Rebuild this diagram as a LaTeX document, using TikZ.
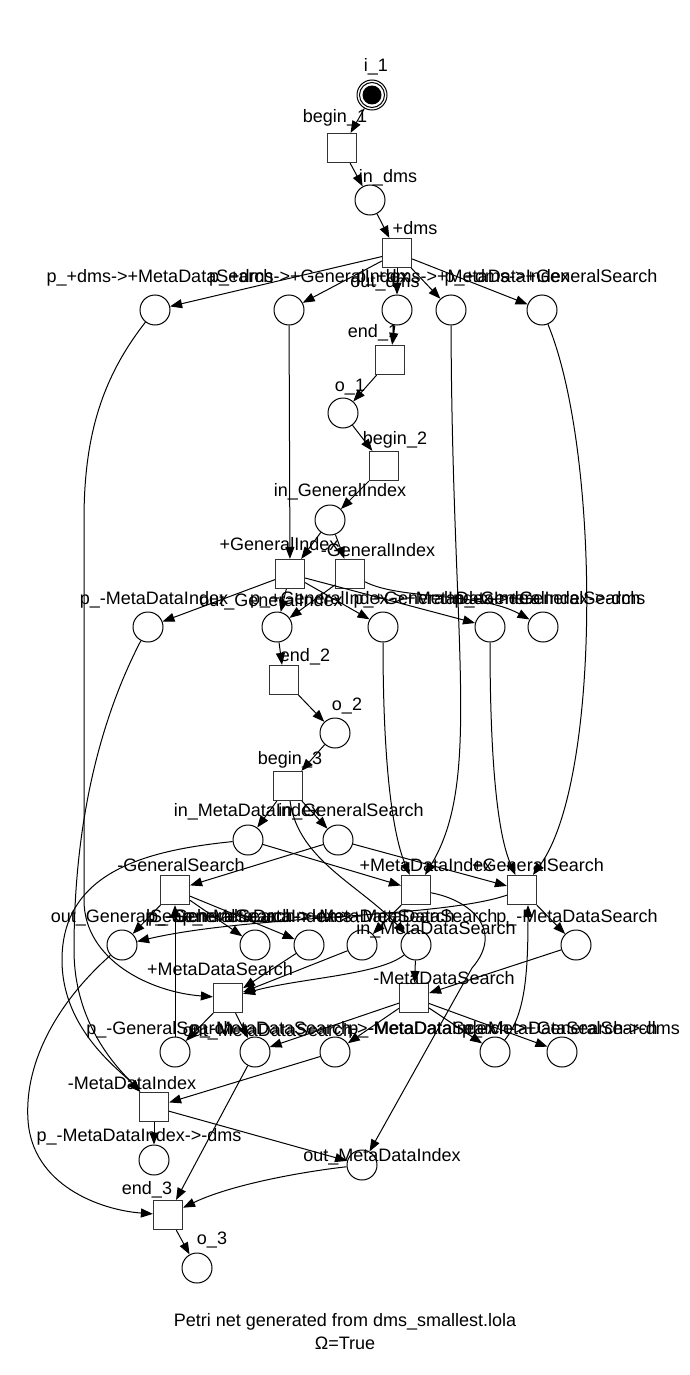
\documentclass[tikz,border=0pt]{standalone}
\usepackage{fontspec}
\setmainfont{Liberation Sans}
\usetikzlibrary{arrows.meta}
\tikzset{
  place/.style = {circle, draw, line width=1pt, minimum size=30pt, inner sep=0pt},
  token/.style = {circle, fill, minimum size=19pt, inner sep=0pt},
  trans/.style = {rectangle, draw=black!80, line width=1.2pt, minimum size=29pt, inner sep=0pt},
  lbl/.style   = {font=\fontsize{18}{21}\selectfont, inner sep=0pt, text height=13pt, text depth=4pt},
  flow/.style  = {-{Triangle[length=12pt, width=9pt]}, line width=1pt},
}

\begin{document}
\begin{tikzpicture}[x=1pt, y=-1pt]
  \useasboundingbox (0,0) rectangle (689,1375);

  % places and transitions
  \node[place] (i1) at (372,95) {};
  \node[place, minimum size=25pt] at (372,95) {};
  \node[token] at (372,95) {};
  \node[trans] (b1) at (342,148) {};
  \node[place] (indms) at (370,200) {};
  \node[trans] (tdms) at (397,253) {};
  \node[place] (pdmsMDS) at (155,310) {};
  \node[place] (pdmsGI) at (289,310) {};
  \node[place] (outdms) at (397,310) {};
  \node[place] (pdmsMDI) at (451,310) {};
  \node[place] (pdmsGS) at (542,310) {};
  \node[trans] (e1) at (390,360) {};
  \node[place] (o1) at (343,413) {};
  \node[trans] (b2) at (384,466) {};
  \node[place] (inGI) at (330,520) {};
  \node[trans] (tpGI) at (290,574) {};
  \node[trans] (tmGI) at (350,574) {};
  \node[place] (pmMDI) at (148,627) {};
  \node[place] (outGI) at (277,627) {};
  \node[place] (pGIMDI) at (383,627) {};
  \node[place] (pGIGS) at (490,627) {};
  \node[place] (pGIdms) at (543,627) {};
  \node[trans] (e2) at (284,680) {};
  \node[place] (o2) at (335,733) {};
  \node[trans] (b3) at (288,786) {};
  \node[place] (inMDI) at (248,840) {};
  \node[place] (inGS) at (338,840) {};
  \node[trans] (tmGS) at (175,890) {};
  \node[trans] (tpMDI) at (416,890) {};
  \node[trans] (tpGS) at (522,890) {};
  \node[place] (outGS) at (122,945) {};
  \node[place] (pGSdms) at (255,945) {};
  \node[place] (pGSMDS) at (309,945) {};
  \node[place] (pMDIMDS) at (362,945) {};
  \node[place] (inMDS) at (416,945) {};
  \node[place] (pmMDS) at (576,945) {};
  \node[trans] (tpMDS) at (228,998) {};
  \node[trans] (tmMDS) at (414,998) {};
  \node[place] (pmGS) at (175,1052) {};
  \node[place] (outMDS) at (255,1052) {};
  \node[place] (pMDSMDI) at (335,1052) {};
  \node[place] (pMDSGS) at (495,1052) {};
  \node[place] (pMDSdms) at (562,1052) {};
  \node[trans] (tmMDI) at (154,1107) {};
  \node[place] (pMDIdms) at (154,1160) {};
  \node[place] (outMDI) at (362,1165) {};
  \node[trans] (e3) at (168,1215) {};
  \node[place] (o3) at (197,1268) {};

  % labels
  \node[lbl] (li1) at (376,67) {i\_1};
  \node[lbl] (lb1) at (335,118) {begin\_1};
  \node[lbl] (lindms) at (388,178) {in\_dms};
  \node[lbl] (ltdms) at (415,230) {+dms};
  \node[lbl] (lpdmsMDS) at (160,278) {p\_+dms->+MetaDataSearch};
  \node[lbl] (lpdmsGI) at (309,278) {p\_+dms->+GeneralIndex};
  \node[lbl] (loutdms) at (385,283) {out\_dms};
  \node[lbl] (lpdmsMDI) at (463,278) {p\_+dms->+MetaDataIndex};
  \node[lbl] (lpdmsGS) at (551,278) {p\_+dms->+GeneralSearch};
  \node[lbl] (le1) at (373,333) {end\_1};
  \node[lbl] (lo1) at (350,387) {o\_1};
  \node[lbl] (lb2) at (395,440) {begin\_2};
  \node[lbl] (linGI) at (340,492) {in\_GeneralIndex};
  \node[lbl] (ltpGI) at (279,546) {+GeneralIndex};
  \node[lbl] (ltmGI) at (378,552) {-GeneralIndex};
  \node[lbl] (lpmMDI) at (154,600) {p\_-MetaDataIndex};
  \node[lbl] (loutGI) at (271,602) {out\_GeneralIndex};
  \node[lbl] (lpGIMDI) at (394,600) {p\_+GeneralIndex->+MetaDataIndex};
  \node[lbl] (lpGIGS) at (497,600) {p\_+GeneralIndex->+GeneralSearch};
  \node[lbl] (lpGIdms) at (550,600) {p\_-GeneralIndex->-dms};
  \node[lbl] (le2) at (305,657) {end\_2};
  \node[lbl] (lo2) at (347,706) {o\_2};
  \node[lbl] (lb3) at (290,760) {begin\_3};
  \node[lbl] (linMDI) at (247,812) {in\_MetaDataIndex};
  \node[lbl] (linGS) at (351,812) {in\_GeneralSearch};
  \node[lbl] (ltmGS) at (181,867) {-GeneralSearch};
  \node[lbl] (ltpMDI) at (426,867) {+MetaDataIndex};
  \node[lbl] (ltpGS) at (538,867) {+GeneralSearch};
  \node[lbl] (loutGS) at (129,918) {out\_GeneralSearch};
  \node[lbl] (lpGSdms) at (250,918) {p\_-GeneralSearch->-dms};
  \node[lbl] (lpGSMDS) at (300,918) {p\_-GeneralSearch->+MetaDataSearch};
  \node[lbl] (lpMDIMDS) at (340,918) {p\_+MetaDataIndex->+MetaDataSearch};
  \node[lbl] (linMDS) at (436,930) {in\_MetaDataSearch};
  \node[lbl] (lpmMDS) at (577,918) {p\_-MetaDataSearch};
  \node[lbl] (ltpMDS) at (220,971) {+MetaDataSearch};
  \node[lbl] (ltmMDS) at (444,980) {-MetaDataSearch};
  \node[lbl] (lpmGS) at (160,1030) {p\_-GeneralSearch};
  \node[lbl] (loutMDS) at (268,1032) {out\_MetaDataSearch};
  \node[lbl] (lpMDSMDI) at (343,1030) {p\_-MetaDataSearch->-MetaDataIndex};
  \node[lbl] (lpMDSGS) at (503,1030) {p\_-MetaDataSearch->+GeneralSearch};
  \node[lbl] (lpMDSdms) at (571,1030) {p\_-MetaDataSearch->-dms};
  \node[lbl] (ltmMDI) at (132,1085) {-MetaDataIndex};
  \node[lbl] (lpMDIdms) at (139,1137) {p\_-MetaDataIndex->-dms};
  \node[lbl] (loutMDI) at (382,1157) {out\_MetaDataIndex};
  \node[lbl] (le3) at (147,1190) {end\_3};
  \node[lbl] (lo3) at (212,1240) {o\_3};
  \node[lbl] (title) at (345,1322) {Petri net generated from dms\_smallest.lola};
  \node[lbl] (omega) at (345,1345) {Ω=True};

  % arcs, dms
  \draw[flow] (i1) -- (b1);
  \draw[flow] (b1) -- (indms);
  \draw[flow] (indms) -- (tdms);
  \draw[flow] (tdms) -- (pdmsMDS);
  \draw[flow] (tdms) -- (pdmsGI);
  \draw[flow] (tdms) -- (outdms);
  \draw[flow] (tdms) -- (pdmsMDI);
  \draw[flow] (tdms) -- (pdmsGS);
  \draw[flow] (outdms) -- (e1);
  \draw[flow] (e1) -- (o1);
  \draw[flow] (o1) -- (b2);

  % arcs, GeneralIndex
  \draw[flow] (b2) -- (inGI);
  \draw[flow] (inGI) -- (tpGI);
  \draw[flow] (inGI) -- (tmGI);
  \draw[flow] (pdmsGI) -- (tpGI);
  \draw[flow] (tpGI) -- (pmMDI);
  \draw[flow] (tpGI) -- (outGI);
  \draw[flow] (tpGI) -- (pGIMDI);
  \draw[flow] (tpGI) -- (pGIGS);
  \draw[flow] (tmGI) -- (outGI);
  \draw[flow] (tmGI) .. controls (400,600) and (480,592) .. (pGIdms);
  \draw[flow] (outGI) -- (e2);
  \draw[flow] (e2) -- (o2);
  \draw[flow] (o2) -- (b3);

  % arcs, level 3
  \draw[flow] (b3) -- (inMDI);
  \draw[flow] (b3) -- (inGS);
  \draw[flow] (b3) .. controls (298,860) and (360,885) .. (inMDS);
  \draw[flow] (pdmsMDI) .. controls (452,650) and (482,780) .. (tpMDI);
  \draw[flow] (pdmsGS) .. controls (600,450) and (602,780) .. (tpGS);
  \draw[flow] (pGIMDI) .. controls (383,780) and (395,840) .. (tpMDI);
  \draw[flow] (pGIGS) .. controls (490,780) and (500,840) .. (tpGS);
  \draw[flow] (inMDI) -- (tpMDI);
  \draw[flow] (inMDI) .. controls (150,850) and (62,870) .. (62,960)
                      .. controls (62,1030) and (120,1070) .. (tmMDI);
  \draw[flow] (pmMDI) .. controls (110,700) and (74,800) .. (74,950)
                      .. controls (74,1030) and (125,1075) .. (tmMDI);
  \draw[flow] (inGS) -- (tpGS);
  \draw[flow] (inGS) -- (tmGS);
  \draw[flow] (tmGS) -- (outGS);
  \draw[flow] (tpGS) .. controls (440,918) and (250,915) .. (outGS);
  \draw[flow] (tmGS) -- (pGSdms);
  \draw[flow] (tmGS) -- (pGSMDS);
  \draw[flow] (tpGS) -- (pmMDS);
  \draw[flow] (tpMDI) -- (pMDIMDS);
  \draw[flow] (tpMDI) .. controls (470,900) and (505,930) .. (472,968) -- (outMDI);
  \draw[flow] (pdmsMDS) .. controls (100,380) and (84,440) .. (84,520) -- (84,900)
                        .. controls (84,960) and (150,992) .. (tpMDS);
  \draw[flow] (pGSMDS) -- (tpMDS);
  \draw[flow] (pMDIMDS) -- (tpMDS);
  \draw[flow] (inMDS) .. controls (380,975) and (300,978) .. (tpMDS);
  \draw[flow] (inMDS) -- (tmMDS);
  \draw[flow] (pmMDS) -- (tmMDS);
  \draw[flow] (tpMDS) -- (pmGS);
  \draw[flow] (tpMDS) -- (outMDS);
  \draw[flow] (tmMDS) -- (outMDS);
  \draw[flow] (tmMDS) -- (pMDSMDI);
  \draw[flow] (tmMDS) -- (pMDSGS);
  \draw[flow] (tmMDS) -- (pMDSdms);
  \draw[flow] (pmGS) -- (tmGS);
  \draw[flow] (pMDSGS) .. controls (525,1015) and (528,975) .. ([xshift=6pt]tpGS.south);
  \draw[flow] (pMDSMDI) -- (tmMDI);
  \draw[flow] (tmMDI) -- (pMDIdms);
  \draw[flow] (tmMDI) -- (outMDI);
  \draw[flow] (outGS) .. controls (60,1000) and (24,1060) .. (28,1120)
                      .. controls (32,1185) and (100,1210) .. (e3);
  \draw[flow] (outMDS) -- (e3);
  \draw[flow] (outMDI) .. controls (300,1172) and (230,1185) .. (e3);
  \draw[flow] (e3) -- (o3);
\end{tikzpicture}
\end{document}
